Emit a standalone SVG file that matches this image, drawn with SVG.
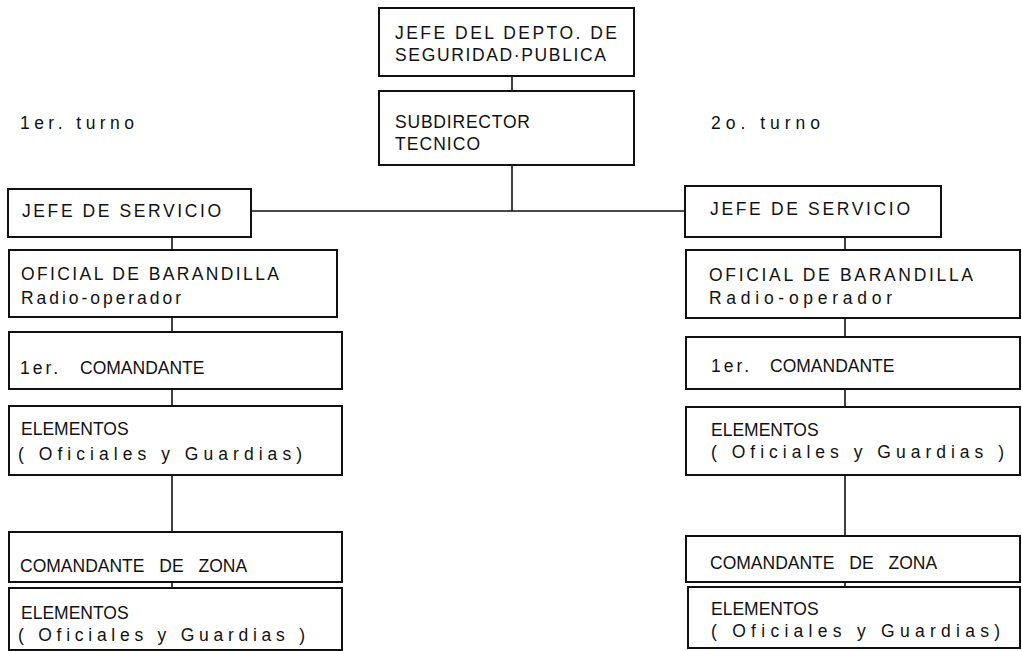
<svg xmlns="http://www.w3.org/2000/svg" width="1022" height="651" viewBox="0 0 1022 651">
<style>
.box{fill:#fff;stroke:#111;stroke-width:2}
.ln{fill:none;stroke:#111;stroke-width:1.6}
text{font-family:"Liberation Sans",Arial,sans-serif;font-size:17.5px;fill:#111}
</style>
<rect width="1022" height="651" fill="#fff"/>
<g id="connectors">
<path class="ln" d="M512 76V91M512 165V211M251 211H685"/>
<path class="ln" d="M172 237V250M172 317V332M172 389V406M172 475V532M172 582V588"/>
<path class="ln" d="M845 237V250M845 318V337M845 389V407M845 475V536M845 582V587"/>
</g>
<text id="turno1" x="20" y="129" textLength="114" lengthAdjust="spacing">1er. turno</text>
<text id="turno2" x="711" y="129" textLength="109" lengthAdjust="spacing">2o. turno</text>
<g id="jefe-depto">
<rect class="box" x="379" y="8" width="255" height="68"/>
<text x="395" y="39" textLength="222" lengthAdjust="spacing">JEFE DEL DEPTO. DE</text>
<text x="395" y="61" textLength="211" lengthAdjust="spacing">SEGURIDAD·PUBLICA</text>
</g>
<g id="subdirector">
<rect class="box" x="379" y="91" width="255" height="74"/>
<text x="395" y="128" textLength="135" lengthAdjust="spacing">SUBDIRECTOR</text>
<text x="395" y="150" textLength="85" lengthAdjust="spacing">TECNICO</text>
</g>
<g id="l-jefe">
<rect class="box" x="8" y="189" width="243" height="48"/>
<text x="22" y="217" textLength="199" lengthAdjust="spacing">JEFE DE SERVICIO</text>
</g>
<g id="l-oficial">
<rect class="box" x="9" y="250" width="328" height="67"/>
<text x="21" y="280" textLength="258" lengthAdjust="spacing">OFICIAL DE BARANDILLA</text>
<text x="21" y="304" textLength="160" lengthAdjust="spacing">Radio-operador</text>
</g>
<g id="l-comandante">
<rect class="box" x="9" y="332" width="333" height="57"/>
<text y="374"><tspan x="20" letter-spacing="3">1er.</tspan><tspan x="80">COMANDANTE</tspan></text>
</g>
<g id="l-elementos1">
<rect class="box" x="9" y="406" width="333" height="69"/>
<text x="21" y="435">ELEMENTOS</text>
<text x="18" y="460" textLength="284" lengthAdjust="spacing">( Oficiales y Guardias)</text>
</g>
<g id="l-zona">
<rect class="box" x="9" y="532" width="333" height="50"/>
<text x="20" y="572" word-spacing="10">COMANDANTE DE ZONA</text>
</g>
<g id="l-elementos2">
<rect class="box" x="9" y="588" width="333" height="62"/>
<text x="21" y="619">ELEMENTOS</text>
<text x="18" y="641" textLength="287" lengthAdjust="spacing">( Oficiales y Guardias )</text>
</g>
<g id="r-jefe">
<rect class="box" x="685" y="186" width="256" height="51"/>
<text x="710" y="215" textLength="200" lengthAdjust="spacing">JEFE DE SERVICIO</text>
</g>
<g id="r-oficial">
<rect class="box" x="686" y="250" width="334" height="68"/>
<text x="709" y="281" textLength="264" lengthAdjust="spacing">OFICIAL DE BARANDILLA</text>
<text x="709" y="304" textLength="183" lengthAdjust="spacing">Radio-operador</text>
</g>
<g id="r-comandante">
<rect class="box" x="686" y="337" width="334" height="52"/>
<text y="372"><tspan x="711" letter-spacing="3">1er.</tspan><tspan x="770">COMANDANTE</tspan></text>
</g>
<g id="r-elementos1">
<rect class="box" x="686" y="407" width="334" height="68"/>
<text x="711" y="436">ELEMENTOS</text>
<text x="711" y="458" textLength="293" lengthAdjust="spacing">( Oficiales y Guardias )</text>
</g>
<g id="r-zona">
<rect class="box" x="686" y="536" width="334" height="46"/>
<text x="710" y="569" word-spacing="10">COMANDANTE DE ZONA</text>
</g>
<g id="r-elementos2">
<rect class="box" x="688" y="587" width="332" height="61"/>
<text x="711" y="615">ELEMENTOS</text>
<text x="711" y="637" textLength="289" lengthAdjust="spacing">( Oficiales y Guardias)</text>
</g>
</svg>
